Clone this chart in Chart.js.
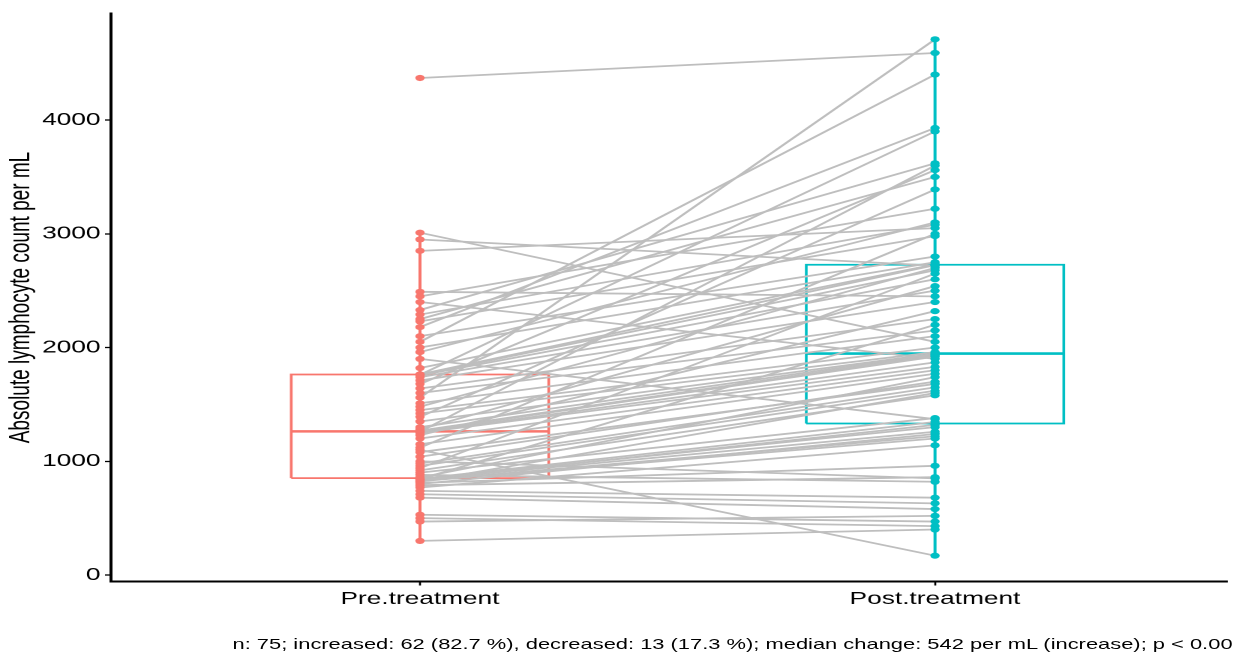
<!doctype html>
<html lang="en">

<head>
  <meta charset="utf-8">
  <title>Absolute lymphocyte count per mL</title>
  <style>
    html, body { margin: 0; padding: 0; background: #fff; overflow: hidden; }
    /* the reference picture is stretched sideways, so the whole drawing is too */
    #wrap { position: relative; width: 822px; height: 655px; transform: scaleX(1.5); transform-origin: 0 0; }
    #caption {
      position: absolute; left: 155px; top: 636px; white-space: nowrap; color: #000;
      font: 14.6px "Liberation Sans", Arial, sans-serif;
    }
  </style>
</head>

<body>

  <div id="wrap">
    <canvas id="chart" width="822" height="655"></canvas>
    <div id="caption">n: 75; increased: 62 (82.7 %), decreased: 13 (17.3 %); median change: 542 per mL (increase); p &lt; 0.001</div>
  </div>

  <script src="https://cdn.jsdelivr.net/npm/chart.js"></script>

  <script>
    const groups = ['Pre.treatment', 'Post.treatment'];
    const yTicks = [0, 1000, 2000, 3000, 4000];

    // one entry per patient, same order in both arrays
    const pre = [3010, 2950, 2490, 2400, 1900, 1100, 1000, 880, 530, 680, 500, 710, 740, 2850, 4370,
      300, 470, 770, 790, 800, 810, 820, 825, 830, 835, 840, 842, 844, 846, 858, 900, 920, 940, 960, 980,
      1040, 1080, 1120, 1150, 1200, 1230, 1250, 1255, 1260, 1263, 1270, 1280, 1300, 1350, 1390, 1420,
      1450, 1480, 1510, 1560, 1600, 1640, 1680, 1710, 1740, 1755, 1760, 1762, 1764, 1820, 1960, 2000,
      2050, 2100, 2180, 2230, 2250, 2290, 2330, 2450];
    const post = [2050, 2720, 2450, 1900, 1370, 170, 850, 820, 470, 580, 430, 630, 680, 3050, 4590,
      400, 520, 1140, 860, 1240, 960, 1600, 1200, 1220, 1320, 1260, 2200, 1300, 1345, 1740, 1380, 1580,
      2650, 1620, 1650, 1700, 1680, 3000, 1770, 1800, 2320, 1830, 1870, 3600, 1920, 1930, 2540, 1940,
      1947, 3390, 1960, 2000, 2700, 2100, 4710, 2150, 2250, 3560, 2400, 2500, 2600, 3900, 2680, 2725,
      2731, 3100, 2750, 4400, 2800, 3930, 2980, 3500, 3080, 3620, 3220];

    const colors = ['#F8766D', '#00BFC4'];
    const font = '"Liberation Sans", Arial, sans-serif';

    function boxStats(values) {
      const s = [...values].sort((a, b) => a - b);
      const q = p => {
        const h = (s.length - 1) * p;
        const i = Math.floor(h);
        return s[i] + (h - i) * (s[Math.min(i + 1, s.length - 1)] - s[i]);
      };
      const q1 = q(0.25), med = q(0.5), q3 = q(0.75), iqr = q3 - q1;
      const lo = s.find(v => v >= q1 - 1.5 * iqr);
      const hi = [...s].reverse().find(v => v <= q3 + 1.5 * iqr);
      return { q1, med, q3, lo, hi };
    }

    function lineSet(points, color, width, order) {
      return {
        data: points, showLine: true, pointRadius: 0, borderColor: color,
        borderWidth: width, borderJoinStyle: 'miter', order: order
      };
    }

    function boxSets(values, c, color) {
      const b = boxStats(values);
      const w = 0.25;
      return [
        lineSet([{ x: c - w, y: b.q1 }, { x: c + w, y: b.q1 }, { x: c + w, y: b.q3 },
                 { x: c - w, y: b.q3 }, { x: c - w, y: b.q1 }], color, 1.8, 3),
        lineSet([{ x: c - w, y: b.med }, { x: c + w, y: b.med }], color, 2.6, 3),
        lineSet([{ x: c, y: b.lo }, { x: c, y: b.q1 }], color, 2, 3),
        lineSet([{ x: c, y: b.q3 }, { x: c, y: b.hi }], color, 2, 3)
      ];
    }

    const datasets = [];
    [pre, post].forEach((vals, g) => {
      datasets.push({
        data: vals.map(v => ({ x: g + 1, y: v })),
        pointRadius: 3.1, pointBackgroundColor: colors[g], pointBorderWidth: 0,
        borderColor: colors[g], order: 0
      });
    });
    pre.forEach((v, i) => {
      datasets.push(lineSet([{ x: 1, y: v }, { x: 2, y: post[i] }], '#BEBEBE', 1.8, 1));
    });
    datasets.push(...boxSets(pre, 1, colors[0]), ...boxSets(post, 2, colors[1]));

    const all = pre.concat(post);
    const lo = Math.min(...all), hi = Math.max(...all), pad = (hi - lo) * 0.05;

    new Chart(document.getElementById('chart'), {
      type: 'scatter',
      data: { datasets: datasets },
      options: {
        responsive: false,
        devicePixelRatio: 2,
        animation: false,
        events: [],
        layout: { padding: { top: 12, right: 0, left: 0, bottom: 0 } },
        plugins: { legend: { display: false }, tooltip: { enabled: false } },
        scales: {
          x: {
            type: 'linear', min: 0.4, max: 2.567,
            afterBuildTicks: s => { s.ticks = groups.map((g, i) => ({ value: i + 1 })); },
            afterFit: s => { s.height = 73.5; },
            ticks: {
              color: '#000', padding: 3, font: { family: font, size: 17.5 },
              callback: v => groups[v - 1]
            },
            grid: { drawOnChartArea: false, tickLength: 4, tickColor: '#000', tickWidth: 1.3 },
            border: { color: '#000', width: 2 }
          },
          y: {
            min: lo - pad, max: hi + pad,
            afterBuildTicks: s => { s.ticks = yTicks.map(v => ({ value: v })); },
            afterFit: s => { s.width = 74; },
            ticks: {
              color: '#000', padding: 3, font: { family: font, size: 17.5 },
              callback: v => String(v)
            },
            grid: { drawOnChartArea: false, tickLength: 4, tickColor: '#000', tickWidth: 1.3 },
            border: { color: '#000', width: 2 },
            title: {
              display: true, text: 'Absolute lymphocyte count per mL', color: '#000',
              font: { family: font, size: 19 }, padding: { top: 3, bottom: 0 }
            }
          }
        }
      }
    });
  </script>

</body>

</html>
